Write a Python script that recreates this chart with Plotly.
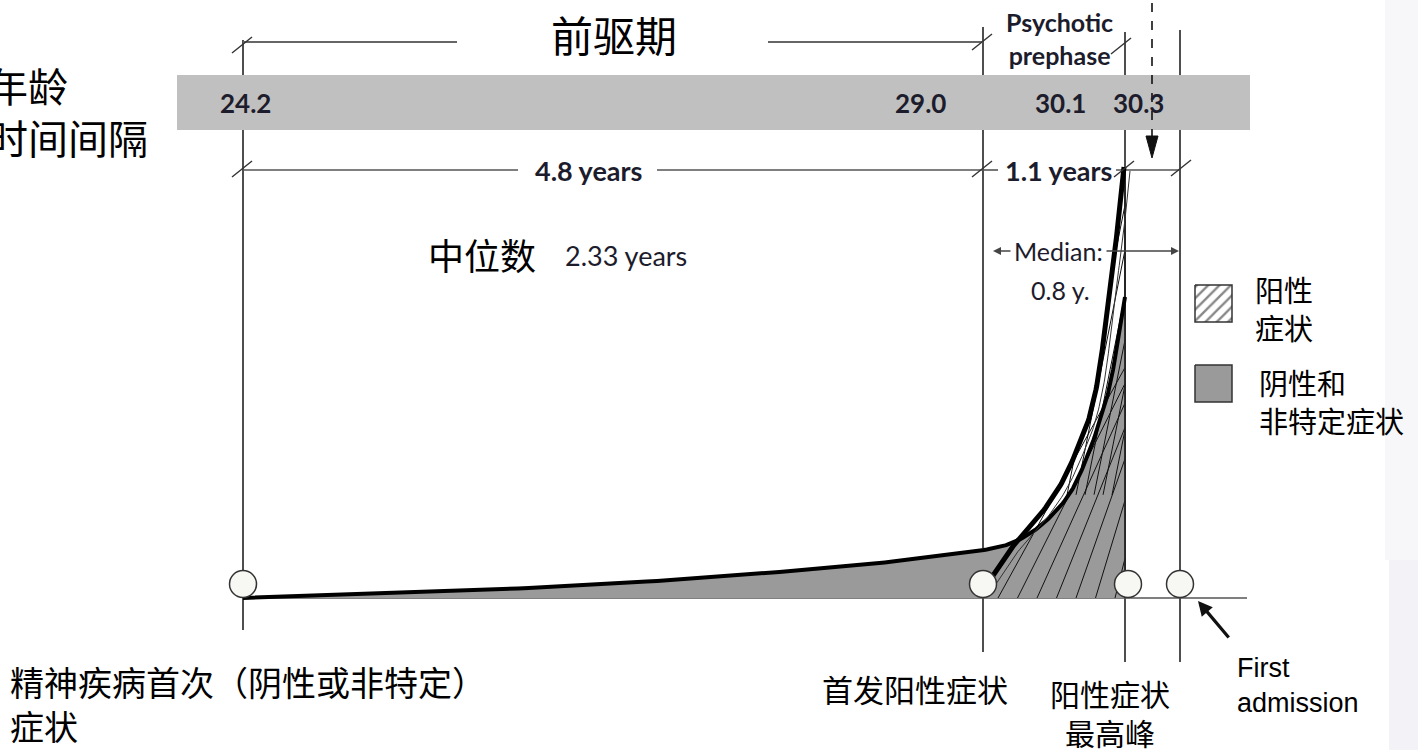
import numpy as np
import plotly.graph_objects as go

# ---------------- data (schematic) ----------------
ages = ["24.2", "29.0", "30.1", "30.3"]
age_label_x = [245, 920, 1060, 1138]
event_x = [243, 983, 1125, 1180]
event_circle_x = [243, 983, 1128, 1180]
durations = ["4.8 years", "1.1 years"]
duration_x = [588, 1058]
median_main = ["中位数", "2.33 years"]
median_psy = ["Median:", "0.8 y."]
legend_labels = ["阳性<br>症状", "阴性和<br>非特定症状"]
event_labels = ["精神疾病首次（阴性或非特定）<br>症状", "首发阳性症状", "阳性症状<br>最高峰", "First<br>admission"]

# curve of negative & non-specific symptoms (pixel-space schematic)
neg_x = [243, 400, 550, 700, 850, 930, 984, 1012, 1035, 1055, 1072, 1088, 1100, 1110, 1118, 1125]
neg_y = [598, 593, 587, 578, 566, 557, 550, 543, 530, 512, 490, 455, 420, 385, 340, 297]
# curve of positive symptoms
pos_x = [990, 1010, 1037, 1060, 1077, 1090, 1100, 1108, 1117, 1124]
pos_y = [580, 550, 519, 486, 450, 415, 367, 300, 233, 167]

BASE = 598
W, H = 1418, 750
CJK = "Noto Sans CJK SC"
LAT = "Lato"
TXT = "#1c1c2c"


def smooth(xs, ys, n=14):
    P = np.column_stack([xs, ys]).astype(float)
    P = np.vstack([P[0] * 2 - P[1], P, P[-1] * 2 - P[-2]])
    out = []
    t = np.linspace(0, 1, n, endpoint=False)[:, None]
    for i in range(1, len(P) - 2):
        p0, p1, p2, p3 = P[i - 1], P[i], P[i + 1], P[i + 2]
        pts = 0.5 * ((2 * p1) + (-p0 + p2) * t + (2 * p0 - 5 * p1 + 4 * p2 - p3) * t ** 2
                     + (-p0 + 3 * p1 - 3 * p2 + p3) * t ** 3)
        out.append(pts)
    out.append(P[-2][None, :])
    return np.vstack(out)


neg = smooth(neg_x, neg_y)
pos = smooth(pos_x, pos_y)


def inside(xs, ys):
    return (xs >= 990) & (xs <= neg_x[-1]) & (ys >= np.interp(xs, pos[:, 0], pos[:, 1])) & (ys <= BASE)


def clip_segments(xs, ys, mask, hx, hy):
    seg = []
    for xi, yi, ok in zip(xs, ys, mask):
        if ok:
            seg.append((xi, yi))
        elif seg:
            hx += [seg[0][0], seg[-1][0], None]
            hy += [seg[0][1], seg[-1][1], None]
            seg = []
    if seg:
        hx += [seg[0][0], seg[-1][0], None]
        hy += [seg[0][1], seg[-1][1], None]


fig = go.Figure()

# gray area (negative / nonspecific)
fig.add_trace(go.Scatter(
    x=list(neg[:, 0]) + [neg_x[-1], neg_x[0]],
    y=list(neg[:, 1]) + [BASE, BASE],
    fill="toself", fillcolor="#9a9a9a", mode="lines", line=dict(width=0),
    hoverinfo="skip"))

# hatch lines (positive symptoms region)
V = np.array([1214.0, 206.0])
hx, hy = [], []
tt = np.linspace(0, 1, 700)
for xb in np.arange(998, 1122, 19.5):
    xs = xb + (V[0] - xb) * tt
    ys = BASE + (V[1] - BASE) * tt
    clip_segments(xs, ys, inside(xs, ys), hx, hy)
for ye in np.arange(205, 470, 45):
    ys = np.linspace(ye, 600, 700)
    xs = neg_x[-1] - 0.2 * (ys - ye)
    clip_segments(xs, ys, inside(xs, ys) & (ys < 495), hx, hy)
fig.add_trace(go.Scatter(x=hx, y=hy, mode="lines", line=dict(color="#111", width=1), hoverinfo="skip"))

# right edge of shaded area
fig.add_trace(go.Scatter(x=[neg_x[-1], neg_x[-1]], y=[BASE, pos_y[-1]], mode="lines",
                         line=dict(color="#222", width=1.8), hoverinfo="skip"))

# curves
fig.add_trace(go.Scatter(x=neg[:, 0], y=neg[:, 1], mode="lines",
                         line=dict(color="black", width=4), hoverinfo="skip"))
fig.add_trace(go.Scatter(x=pos[:, 0], y=pos[:, 1], mode="lines",
                         line=dict(color="black", width=5), hoverinfo="skip"))
fig.add_trace(go.Scatter(x=pos[:, 0] + 6, y=pos[:, 1] + 4, mode="lines",
                         line=dict(color="#333", width=1), hoverinfo="skip"))

# event circles
fig.add_trace(go.Scatter(x=event_circle_x, y=[584] * 4, mode="markers",
                         marker=dict(symbol="circle", size=27, color="#f7f7f3",
                                     line=dict(color="#333", width=1.5)),
                         hoverinfo="skip"))

# legend boxes
fig.add_trace(go.Scatter(x=[1195, 1232, 1232, 1195, 1195], y=[285, 285, 322, 322, 285],
                         fill="toself", fillcolor="white", mode="lines",
                         fillpattern=dict(shape="/", fgcolor="#111", bgcolor="white", size=8, solidity=0.3),
                         line=dict(color="#333", width=1.5), hoverinfo="skip"))
fig.add_trace(go.Scatter(x=[1195, 1232, 1232, 1195, 1195], y=[365, 365, 402, 402, 365],
                         fill="toself", fillcolor="#9a9a9a", mode="lines",
                         line=dict(color="#333", width=1.5), hoverinfo="skip"))

shapes = []
# faint slide background at the right edge
shapes.append(dict(type="rect", x0=1385, x1=W, y0=0, y1=560, fillcolor="#f7f7fa", line_width=0, layer="below"))
shapes.append(dict(type="rect", x0=1389, x1=W, y0=560, y1=H, fillcolor="#f3f3f7", line_width=0, layer="below"))

# vertical event lines
v_top = [40, 27, 32, 30]
v_bot = [630, 652, 662, 662]
for x, t0, t1 in zip(event_x, v_top, v_bot):
    shapes.append(dict(type="line", x0=x, x1=x, y0=t0, y1=t1, line=dict(color="#222", width=1.6), layer="below"))

# baseline
shapes.append(dict(type="line", x0=243, x1=1247, y0=BASE, y1=BASE, line=dict(color="#555", width=1.5), layer="below"))

# age band
shapes.append(dict(type="rect", x0=177, x1=1250, y0=75, y1=130, fillcolor="#c0c0c0", line_width=0, layer="below"))

# top bracket (prodrome)
shapes.append(dict(type="line", x0=243, x1=457, y0=42, y1=42, line=dict(color="#666", width=2.2), layer="below"))
shapes.append(dict(type="line", x0=768, x1=983, y0=42, y1=42, line=dict(color="#666", width=2.2), layer="below"))

# interval line
for a, b in [(243, 518), (657, 983), (983, 998), (1116, 1180)]:
    shapes.append(dict(type="line", x0=a, x1=b, y0=170, y1=170, line=dict(color="#555", width=1.6), layer="below"))

# slashes
for sx, sy in [(243, 45), (983, 42), (1122, 46), (243, 169), (983, 169), (1125, 169), (1182, 168)]:
    shapes.append(dict(type="line", x0=sx - 11, x1=sx + 9, y0=sy + 8, y1=sy - 8,
                       line=dict(color="#333", width=1.4)))

# dashed arrow
shapes.append(dict(type="line", x0=1152, x1=1152, y0=3, y1=140, line=dict(color="#111", width=1.6, dash="dash")))
shapes.append(dict(type="path", path="M 1146 136 L 1158 136 L 1152 158 Z", fillcolor="#111", line=dict(color="#111", width=1)))

annotations = []


def txt(s, x, y, size, family=CJK, anchor="center", color=TXT, bold=False, xshift=0, align=None):
    annotations.append(dict(text=f"<b>{s}</b>" if bold else s, x=x, y=y, xref="x", yref="y",
                            showarrow=False, xanchor=anchor, yanchor="middle", xshift=xshift,
                            align=align or ("left" if anchor == "left" else "center"),
                            font=dict(size=size, family=family, color=color)))


# left labels
txt("年龄<br>时间间隔", 0, 111, 40, anchor="left", color="black", xshift=-14)
txt("前驱期", 614, 33, 42, color="black")
txt("Psychotic<br>prephase", 1059, 38, 25, LAT, bold=True)
for s, x in zip(ages, age_label_x):
    txt(s, x, 103, 26, LAT, bold=True)
for s, x in zip(durations, duration_x):
    txt(s, x, 170, 27, LAT, bold=True)
txt(median_main[0], 482, 254, 36, color="black")
txt(median_main[1], 563, 255, 27, LAT, anchor="left")
txt(median_psy[0], 1058, 251, 25, LAT)
txt(median_psy[1], 1060, 290, 25, LAT)

# legend text
txt(legend_labels[0], 1253, 308, 29, anchor="left", color="black")
txt(legend_labels[1], 1257, 401, 29, anchor="left", color="black")

# bottom event labels
txt(event_labels[0], 8, 703, 34, anchor="left", color="black")
txt(event_labels[1], 915, 688, 31, color="black")
txt(event_labels[2], 1110, 712, 30, color="black")
txt(event_labels[3], 1235, 685, 27, "Liberation Sans", anchor="left", color="black")

# median arrows (psychotic prephase)
for tail, head in [(1012, 993), (1105, 1179)]:
    annotations.append(dict(x=head, y=251, ax=tail, ay=251, xref="x", yref="y", axref="x", ayref="y",
                            showarrow=True, arrowhead=2, arrowsize=1, arrowwidth=1.6, arrowcolor="#444", text=""))
# first admission arrow
annotations.append(dict(x=1198, y=601, ax=1230, ay=639, xref="x", yref="y", axref="x", ayref="y",
                        showarrow=True, arrowhead=2, arrowsize=0.9, arrowwidth=3.2, arrowcolor="#111", text=""))

fig.update_layout(
    width=W, height=H, margin=dict(l=0, r=0, t=0, b=0),
    paper_bgcolor="white", plot_bgcolor="white", showlegend=False,
    xaxis=dict(range=[0, W], visible=False, fixedrange=True),
    yaxis=dict(range=[H, 0], visible=False, fixedrange=True),
    shapes=shapes, annotations=annotations,
)

fig.write_html("out.html", config={"displayModeBar": False, "staticPlot": True},
               post_script="document.body.style.margin='0';document.body.style.overflow='hidden';")
